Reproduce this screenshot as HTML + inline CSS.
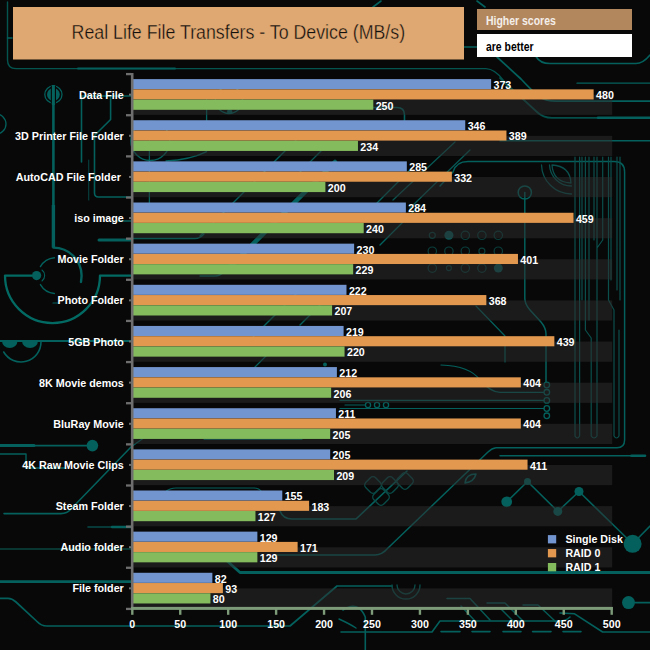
<!DOCTYPE html>
<html><head><meta charset="utf-8"><title>Real Life File Transfers - To Device (MB/s)</title>
<style>
html,body{margin:0;padding:0;background:#080808;}
body{width:650px;height:650px;overflow:hidden;}
svg{display:block;}
text{font-family:"Liberation Sans",Arial,sans-serif;}
.lb{font-weight:bold;font-size:10.67px;fill:#fff;}
</style></head><body>
<svg width="650" height="650" viewBox="0 0 650 650">
<rect width="650" height="650" fill="#080808"/>

<g fill="none" stroke="#04605c" stroke-width="1.6" stroke-linecap="round" stroke-linejoin="round">
<!-- top-left frame line -->
<path d="M7.5,2 V60 Q7.5,68.6 16,68.6 H486 Q495,69 503,80 L512,93" stroke="#045450" stroke-width="1.4"/>
<path d="M78,68.6 H175" stroke-width="2"/>
<path d="M7.5,38 H12"/>
<path d="M464,47 H477"/>
<path d="M372,107.5 H397 Q404.5,107.5 404.5,115 V121"/>
<path d="M373,7 L381,1 M477,1 L485,7"/>
<!-- circle with bars -->
<circle cx="53.4" cy="94.5" r="8.6" stroke-width="1.3"/>
<path d="M53.4,104 V206" stroke-width="2.6" stroke-linecap="butt"/>
<path d="M53.4,205 V247.6" stroke-width="3.4" stroke-linecap="butt"/>
<path d="M53.4,247.6 A28.2,28.2 0 0 1 81.6,275.6 L81,282" stroke-width="2.4"/>
<path d="M81.5,162 V96 H131"/>
<path d="M110.6,96 V119.5 L94.5,135.5 V193 Q94.5,197 98.5,197 H131"/>
<path d="M88.7,160 V200" stroke="#063f3d" stroke-width="1.2"/>
<circle cx="-4" cy="124" r="10" stroke-width="1.3"/>
<path d="M99,240 H131" stroke-width="3"/>
<path d="M118,221 H131" stroke-width="1.3"/>
<!-- big semicircle system -->
<path d="M32,275.6 H5 A47.5,47.5 0 0 0 100,275.6 H131" stroke-width="2.3" stroke="#036a63"/>
<path d="M54.4,257.7 A18,18 0 0 0 40.4,266.6 M40.4,284.6 A18,18 0 0 0 54.4,293.5" stroke-width="1.4"/>
<path d="M42,270 A7,7 0 0 1 42,281" stroke-width="1.1"/>
<path d="M53,303 H58" stroke-width="1.2"/>
<path d="M0,341 H131" stroke-width="2"/>
<path d="M41,342 A20,20 0 0 1 3.7,352" stroke-width="1.6"/>
<path d="M0,445.6 H34" stroke-width="3"/>
<path d="M34,445.6 H88" stroke-width="1.8"/>
<path d="M0,454 H26 V468 H66" stroke-width="1.4"/>
<path d="M131,447 L71,509 Q67,513.6 61,513.6 H4" stroke-width="1.6"/>
<path d="M88,527 H112" stroke-width="1.6" stroke="#064a47"/>
<path d="M112,527 H131" stroke-width="2.4"/>
<path d="M0,549 H131" stroke-width="1.5" stroke="#0a463e"/>
<path d="M0,581.6 H131" stroke-width="2.9"/>
<path d="M0,598.4 H8 Q12,598.4 16,602 L37,621.5 Q41,626 47,626 H290 L337,586 H392" stroke-width="1.7"/>
<!-- bottom -->
<path d="M226,560 L240,572.5 H650" stroke-width="2.8"/>
<path d="M392,585 A14,14 0 0 0 420,585 M397,585 A9,9 0 0 0 415,585" stroke="#0a4a47" stroke-width="1.4"/>
<path d="M447,598.6 H470 L490,620 M487,603 H505 L523,621 M523,605 H538 L556,622 M461,606 L476,622 M500,608 L513,621" stroke="#075955" stroke-width="1.5"/>
<path d="M341,632 H432 L440,621 H560 Q566,621 570,617 M560,613 L574.6,613.8 L602.6,632 H650" stroke-width="1.6"/>
<path d="M441,631.6 H460 M472,631.6 H490 M503,631.6 H521 M532.6,631.6 H551 M563,631.6 H581" stroke-width="1.6"/>
<path d="M343,610 Q358,600 365.3,617 V650" stroke-width="1.6"/>
<path d="M339,619 Q350,624 356,628" stroke-width="1.4"/>
<path d="M635,602.6 H650" stroke-width="1.8"/>
<!-- right top -->
<path d="M536,56.5 Q540,63.5 550,63.5 H636 Q643,63.5 650,55" stroke-width="1.6"/>
<path d="M497,57 L521,79 Q533,92 540,97 Q546,101.2 556,101.2 H650" stroke-width="1.7"/>
<path d="M500,78 L537,112 Q543,117.8 552,117.8 H598" stroke-width="1.8" stroke="#054f4b"/>
<path d="M598,117.8 H650" stroke-width="2.6"/>
<path d="M577,83.2 H650" stroke-width="1.3"/>
<path d="M500,140.8 H650" stroke-width="1.6"/>
<path d="M440,186 L453,172 Q456,161.6 468,161.6 H614 Q624.6,161.6 624.6,172 V440 Q624.6,447.7 617,447.7 H496 Q492,448 488,452 L388,548 Q382,555 375,555 H276" stroke-width="1.5"/>
<path d="M575,157 V436 Q577.3,440 579.6,436 V157 M585.4,157 V330 L591.2,338 V436 Q594,440 597,436 V157 M602.7,157 V240 L597,248 V300 M608.5,157 V300 L614,310 V436 Q616.5,440 619,436 V330 M620,157 V300 M589,157 V320 M582,157 V300 M594,157 V240 M611,157 V280 M617,157 V290" stroke="#0a4f4c" stroke-width="1.2"/>
<path d="M541.5,165 A30,30 0 0 0 571.5,194 M549.5,165 A22,22 0 0 0 571.5,186 M552,165 Q570,166 571,183 Q553,182 552,165 Z" stroke="#0a4f4c" stroke-width="1.3"/>
<circle cx="524.8" cy="192.5" r="6.6" stroke-width="1.5"/>
<path d="M524.8,192.5 V298 Q524.7,304 530,310 L541,322 Q546,328 546,334 V382" stroke-width="1.5"/>
<g stroke-width="1.3"><circle cx="546.8" cy="385" r="2.8"/><circle cx="546.8" cy="392.3" r="2.8"/><circle cx="546.8" cy="400.4" r="2.8"/><circle cx="546.8" cy="408.5" r="2.8"/><circle cx="546.8" cy="415.8" r="2.8"/></g>
<path d="M340,400.4 H544 M340,408.5 H544 M441,365 Q470,366 480,380 Q490,392 500,392.3 H543.5" stroke-width="1.2"/>
<path d="M476,306 L505,336 V362" stroke-width="1.2"/>
<path d="M500,455.8 H631" stroke-width="1.5"/>
<path d="M631.5,455.8 H645" stroke-width="2.6"/>
<!-- circle grid -->
<g stroke="#0a3f3c" stroke-width="1.2">
<circle cx="432.3" cy="235.3" r="3"/><circle cx="465.3" cy="235.3" r="4.2"/><circle cx="481.9" cy="235.3" r="4.2"/><circle cx="498.3" cy="235.3" r="4.2"/>
<circle cx="432.3" cy="251.2" r="4.2"/><circle cx="448.9" cy="251.2" r="4.2"/><circle cx="465.3" cy="251.2" r="4.2"/><circle cx="481.9" cy="251.2" r="3"/><circle cx="498.3" cy="251.2" r="4.2"/>
<circle cx="432.3" cy="268.1" r="4.2"/><circle cx="448.9" cy="268.1" r="2.5"/><circle cx="465.3" cy="268.1" r="4.2"/><circle cx="481.9" cy="268.1" r="4.2"/>
</g>
<!-- zigzag -->
<path d="M506.7,501.8 L527.5,481.5 L557.8,511.4 L579,491.5 L632.6,543.8 L650,526" stroke-width="1.6"/>
<path d="M280,511 Q283,519 292,519 H356 L407,471" stroke-width="1.6"/>
<g stroke="#0a4a47" stroke-width="1.4">
<rect x="366" y="478" width="14" height="14" rx="4" transform="rotate(45 373 485)"/>
<rect x="383" y="478" width="14" height="14" rx="4" transform="rotate(45 390 485)"/>
<rect x="374" y="490" width="14" height="14" rx="4" transform="rotate(45 381 497)"/>
<rect x="398" y="474" width="14" height="14" rx="4" transform="rotate(45 405 481)"/>
</g>
<path d="M465,483 Q466,474 476,474 Q474,482 465,483" stroke-width="1.5"/>
<!-- diagonals in bar zone -->
<g stroke-width="1.3"><circle cx="368" cy="405" r="2.6"/><circle cx="377" cy="405" r="2.6"/><circle cx="386" cy="405" r="2.6"/></g>
<path d="M345,405 H365" stroke-width="1.2"/>
<circle cx="229" cy="100" r="13.5" stroke-width="1.4"/>
<path d="M206.6,98 V123" stroke-width="1.3"/>
<circle cx="150.3" cy="141" r="19.5" stroke-width="1.4"/>
<path d="M149.4,141 V206" stroke-width="1.3"/>
<path d="M166,161 Q190,160 206.6,151.7" stroke-width="1.3"/>
<path d="M335,162 L228,269" stroke-width="4.5"/>
<path d="M300,136 L200,236 M410,170 L370,210 M420,205 L380,245 M300,290 L250,340 M325,300 L300,325" stroke-width="1.4"/>
<path d="M270,352 L255,367 M145,437 L131,447" stroke-width="1.3"/>
<path d="M204,439.5 H302 M165,492 Q170,488 176,488 H254 Q259,488 262,492" stroke-width="1.2"/>
<path d="M133,238.5 H195 Q200,238.5 204,234" stroke-width="1.4"/>
<path d="M200,276 H215 Q220,276 224,272" stroke-width="1.3"/>
<path d="M455,142 L393,200 M470,150 L410,208 M330,142 L300,172" stroke="#075753" stroke-width="1.3"/>
</g>
<g fill="#04605c" stroke="none">
<circle cx="53.4" cy="94.5" r="6.4"/>
<circle cx="229.7" cy="111.5" r="2.6"/>
<circle cx="325" cy="364.6" r="2"/>
<circle cx="36.6" cy="275.6" r="4.6"/>
<path d="M2,341 H17.5 A7.75,7 0 0 1 2,341 Z"/>
<path d="M22,341 H38 A8,7 0 0 1 22,341 Z"/>
<circle cx="92.4" cy="445.6" r="5.8"/>
<circle cx="628.5" cy="602.6" r="6.5"/>
<circle cx="448.9" cy="235.3" r="4.5" fill="#0a5553"/>
<circle cx="498.3" cy="268.1" r="4.5" fill="#0a5553"/>
<circle cx="506.7" cy="501.8" r="5.4"/>
<circle cx="527.5" cy="481.5" r="3.5"/>
<circle cx="557.8" cy="511.4" r="4.5"/>
<circle cx="579" cy="491.5" r="4.5"/>
<circle cx="632.6" cy="543.8" r="9"/>
</g>
<rect x="50.8" y="86" width="5.2" height="17.5" fill="#080808"/>
<rect x="51.9" y="85" width="3" height="20" fill="#05625d"/>

<rect x="133.5" y="94.70" width="478.70" height="20.2" fill="#2d2d2d" fill-opacity="0.5"/>
<rect x="133.5" y="135.84" width="478.70" height="20.2" fill="#2d2d2d" fill-opacity="0.5"/>
<rect x="133.5" y="176.98" width="478.70" height="20.2" fill="#2d2d2d" fill-opacity="0.5"/>
<rect x="133.5" y="218.12" width="478.70" height="20.2" fill="#2d2d2d" fill-opacity="0.5"/>
<rect x="133.5" y="259.26" width="478.70" height="20.2" fill="#2d2d2d" fill-opacity="0.5"/>
<rect x="133.5" y="300.40" width="478.70" height="20.2" fill="#2d2d2d" fill-opacity="0.5"/>
<rect x="133.5" y="341.54" width="478.70" height="20.2" fill="#2d2d2d" fill-opacity="0.5"/>
<rect x="133.5" y="382.68" width="478.70" height="20.2" fill="#2d2d2d" fill-opacity="0.5"/>
<rect x="133.5" y="423.82" width="478.70" height="20.2" fill="#2d2d2d" fill-opacity="0.5"/>
<rect x="133.5" y="464.96" width="478.70" height="20.2" fill="#2d2d2d" fill-opacity="0.5"/>
<rect x="133.5" y="506.10" width="478.70" height="20.2" fill="#2d2d2d" fill-opacity="0.5"/>
<rect x="133.5" y="547.24" width="478.70" height="20.2" fill="#2d2d2d" fill-opacity="0.5"/>
<rect x="133.5" y="588.38" width="478.70" height="20.2" fill="#2d2d2d" fill-opacity="0.5"/>
<rect x="133" y="79.10" width="358.13" height="10.1" fill="#7295cf"/>
<text class="lb" x="493.53" y="89.05">373</text>
<rect x="133" y="89.35" width="460.64" height="10.1" fill="#e3984f"/>
<text class="lb" x="596.04" y="99.30">480</text>
<rect x="133" y="99.60" width="240.30" height="10.2" fill="#84bc5d"/>
<text class="lb" x="375.70" y="109.60">250</text>
<text class="lb" x="123.8" y="98.70" text-anchor="end" style="font-size:10.75px">Data File</text>
<rect x="133" y="120.24" width="332.27" height="10.1" fill="#7295cf"/>
<text class="lb" x="467.67" y="130.19">346</text>
<rect x="133" y="130.49" width="373.46" height="10.1" fill="#e3984f"/>
<text class="lb" x="508.86" y="140.44">389</text>
<rect x="133" y="140.74" width="224.97" height="10.2" fill="#84bc5d"/>
<text class="lb" x="360.37" y="150.74">234</text>
<text class="lb" x="123.8" y="139.84" text-anchor="end" style="font-size:10.75px">3D Printer File Folder</text>
<rect x="133" y="161.38" width="273.83" height="10.1" fill="#7295cf"/>
<text class="lb" x="409.23" y="171.33">285</text>
<rect x="133" y="171.63" width="318.86" height="10.1" fill="#e3984f"/>
<text class="lb" x="454.26" y="181.58">332</text>
<rect x="133" y="181.88" width="192.40" height="10.2" fill="#84bc5d"/>
<text class="lb" x="327.80" y="191.88">200</text>
<text class="lb" x="123.8" y="180.98" text-anchor="end" style="font-size:10.75px">AutoCAD File Folder </text>
<rect x="133" y="202.52" width="272.87" height="10.1" fill="#7295cf"/>
<text class="lb" x="408.27" y="212.47">284</text>
<rect x="133" y="212.77" width="440.52" height="10.1" fill="#e3984f"/>
<text class="lb" x="575.92" y="222.72">459</text>
<rect x="133" y="223.02" width="230.72" height="10.2" fill="#84bc5d"/>
<text class="lb" x="366.12" y="233.02">240</text>
<text class="lb" x="123.8" y="222.12" text-anchor="end" style="font-size:10.75px">iso image</text>
<rect x="133" y="243.66" width="221.14" height="10.1" fill="#7295cf"/>
<text class="lb" x="356.54" y="253.61">230</text>
<rect x="133" y="253.91" width="384.96" height="10.1" fill="#e3984f"/>
<text class="lb" x="520.36" y="263.86">401</text>
<rect x="133" y="264.16" width="220.18" height="10.2" fill="#84bc5d"/>
<text class="lb" x="355.58" y="274.16">229</text>
<text class="lb" x="123.8" y="263.26" text-anchor="end" style="font-size:10.75px">Movie Folder</text>
<rect x="133" y="284.80" width="213.48" height="10.1" fill="#7295cf"/>
<text class="lb" x="348.88" y="294.75">222</text>
<rect x="133" y="295.05" width="353.34" height="10.1" fill="#e3984f"/>
<text class="lb" x="488.74" y="305.00">368</text>
<rect x="133" y="305.30" width="199.11" height="10.2" fill="#84bc5d"/>
<text class="lb" x="334.51" y="315.30">207</text>
<text class="lb" x="123.8" y="304.40" text-anchor="end" style="font-size:10.75px">Photo Folder</text>
<rect x="133" y="325.94" width="210.60" height="10.1" fill="#7295cf"/>
<text class="lb" x="346.00" y="335.89">219</text>
<rect x="133" y="336.19" width="421.36" height="10.1" fill="#e3984f"/>
<text class="lb" x="556.76" y="346.14">439</text>
<rect x="133" y="346.44" width="211.56" height="10.2" fill="#84bc5d"/>
<text class="lb" x="346.96" y="356.44">220</text>
<text class="lb" x="123.8" y="345.54" text-anchor="end" style="font-size:10.75px">5GB Photo</text>
<rect x="133" y="367.08" width="203.90" height="10.1" fill="#7295cf"/>
<text class="lb" x="339.30" y="377.03">212</text>
<rect x="133" y="377.33" width="387.83" height="10.1" fill="#e3984f"/>
<text class="lb" x="523.23" y="387.28">404</text>
<rect x="133" y="387.58" width="198.15" height="10.2" fill="#84bc5d"/>
<text class="lb" x="333.55" y="397.58">206</text>
<text class="lb" x="123.8" y="386.68" text-anchor="end" style="font-size:10.75px">8K Movie demos</text>
<rect x="133" y="408.22" width="202.94" height="10.1" fill="#7295cf"/>
<text class="lb" x="338.34" y="418.17">211</text>
<rect x="133" y="418.47" width="387.83" height="10.1" fill="#e3984f"/>
<text class="lb" x="523.23" y="428.42">404</text>
<rect x="133" y="428.72" width="197.19" height="10.2" fill="#84bc5d"/>
<text class="lb" x="332.59" y="438.72">205</text>
<text class="lb" x="123.8" y="427.82" text-anchor="end" style="font-size:10.75px">BluRay Movie</text>
<rect x="133" y="449.36" width="197.19" height="10.1" fill="#7295cf"/>
<text class="lb" x="332.59" y="459.31">205</text>
<rect x="133" y="459.61" width="394.54" height="10.1" fill="#e3984f"/>
<text class="lb" x="529.94" y="469.56">411</text>
<rect x="133" y="469.86" width="201.02" height="10.2" fill="#84bc5d"/>
<text class="lb" x="336.42" y="479.86">209</text>
<text class="lb" x="123.8" y="468.96" text-anchor="end" style="font-size:10.75px">4K Raw Movie Clips</text>
<rect x="133" y="490.50" width="149.29" height="10.1" fill="#7295cf"/>
<text class="lb" x="284.69" y="500.45">155</text>
<rect x="133" y="500.75" width="176.11" height="10.1" fill="#e3984f"/>
<text class="lb" x="311.51" y="510.70">183</text>
<rect x="133" y="511.00" width="122.47" height="10.2" fill="#84bc5d"/>
<text class="lb" x="257.87" y="521.00">127</text>
<text class="lb" x="123.8" y="510.10" text-anchor="end" style="font-size:10.75px">Steam Folder</text>
<rect x="133" y="531.64" width="124.38" height="10.1" fill="#7295cf"/>
<text class="lb" x="259.78" y="541.59">129</text>
<rect x="133" y="541.89" width="164.62" height="10.1" fill="#e3984f"/>
<text class="lb" x="300.02" y="551.84">171</text>
<rect x="133" y="552.14" width="124.38" height="10.2" fill="#84bc5d"/>
<text class="lb" x="259.78" y="562.14">129</text>
<text class="lb" x="123.8" y="551.24" text-anchor="end" style="font-size:10.75px">Audio folder</text>
<rect x="133" y="572.78" width="79.36" height="10.1" fill="#7295cf"/>
<text class="lb" x="214.76" y="582.73">82</text>
<rect x="133" y="583.03" width="89.89" height="10.1" fill="#e3984f"/>
<text class="lb" x="225.29" y="592.98">93</text>
<rect x="133" y="593.28" width="77.44" height="10.2" fill="#84bc5d"/>
<text class="lb" x="212.84" y="603.28">80</text>
<text class="lb" x="123.8" y="592.38" text-anchor="end" style="font-size:10.75px">File folder</text>
<rect x="130.9" y="73" width="2.6" height="537" fill="#6e6e6e"/>
<rect x="126" y="72.95" width="5" height="2.3" fill="#6e6e6e"/>
<rect x="129" y="93.65" width="2" height="2" fill="#6e6e6e"/>
<rect x="126" y="114.09" width="5" height="2.3" fill="#6e6e6e"/>
<rect x="129" y="134.79" width="2" height="2" fill="#6e6e6e"/>
<rect x="126" y="155.23" width="5" height="2.3" fill="#6e6e6e"/>
<rect x="129" y="175.93" width="2" height="2" fill="#6e6e6e"/>
<rect x="126" y="196.37" width="5" height="2.3" fill="#6e6e6e"/>
<rect x="129" y="217.07" width="2" height="2" fill="#6e6e6e"/>
<rect x="126" y="237.51" width="5" height="2.3" fill="#6e6e6e"/>
<rect x="129" y="258.21" width="2" height="2" fill="#6e6e6e"/>
<rect x="126" y="278.65" width="5" height="2.3" fill="#6e6e6e"/>
<rect x="129" y="299.35" width="2" height="2" fill="#6e6e6e"/>
<rect x="126" y="319.79" width="5" height="2.3" fill="#6e6e6e"/>
<rect x="129" y="340.49" width="2" height="2" fill="#6e6e6e"/>
<rect x="126" y="360.93" width="5" height="2.3" fill="#6e6e6e"/>
<rect x="129" y="381.63" width="2" height="2" fill="#6e6e6e"/>
<rect x="126" y="402.07" width="5" height="2.3" fill="#6e6e6e"/>
<rect x="129" y="422.77" width="2" height="2" fill="#6e6e6e"/>
<rect x="126" y="443.21" width="5" height="2.3" fill="#6e6e6e"/>
<rect x="129" y="463.91" width="2" height="2" fill="#6e6e6e"/>
<rect x="126" y="484.35" width="5" height="2.3" fill="#6e6e6e"/>
<rect x="129" y="505.05" width="2" height="2" fill="#6e6e6e"/>
<rect x="126" y="525.49" width="5" height="2.3" fill="#6e6e6e"/>
<rect x="129" y="546.19" width="2" height="2" fill="#6e6e6e"/>
<rect x="126" y="566.63" width="5" height="2.3" fill="#6e6e6e"/>
<rect x="129" y="587.33" width="2" height="2" fill="#6e6e6e"/>
<rect x="126" y="607.77" width="5" height="2.3" fill="#6e6e6e"/>
<rect x="131" y="606.9" width="481.8" height="3" fill="#7d9b78"/>
<rect x="131.10" y="607" width="2.4" height="7.8" fill="#7d9b78"/>
<text class="lb" x="132.30" y="627.5" text-anchor="middle">0</text>
<rect x="179.04" y="607" width="2.4" height="7.8" fill="#7d9b78"/>
<text class="lb" x="180.24" y="627.5" text-anchor="middle">50</text>
<rect x="226.98" y="607" width="2.4" height="7.8" fill="#7d9b78"/>
<text class="lb" x="228.18" y="627.5" text-anchor="middle">100</text>
<rect x="274.92" y="607" width="2.4" height="7.8" fill="#7d9b78"/>
<text class="lb" x="276.12" y="627.5" text-anchor="middle">150</text>
<rect x="322.86" y="607" width="2.4" height="7.8" fill="#7d9b78"/>
<text class="lb" x="324.06" y="627.5" text-anchor="middle">200</text>
<rect x="370.80" y="607" width="2.4" height="7.8" fill="#7d9b78"/>
<text class="lb" x="372.00" y="627.5" text-anchor="middle">250</text>
<rect x="418.74" y="607" width="2.4" height="7.8" fill="#7d9b78"/>
<text class="lb" x="419.94" y="627.5" text-anchor="middle">300</text>
<rect x="466.68" y="607" width="2.4" height="7.8" fill="#7d9b78"/>
<text class="lb" x="467.88" y="627.5" text-anchor="middle">350</text>
<rect x="514.62" y="607" width="2.4" height="7.8" fill="#7d9b78"/>
<text class="lb" x="515.82" y="627.5" text-anchor="middle">400</text>
<rect x="562.56" y="607" width="2.4" height="7.8" fill="#7d9b78"/>
<text class="lb" x="563.76" y="627.5" text-anchor="middle">450</text>
<rect x="610.50" y="607" width="2.4" height="7.8" fill="#7d9b78"/>
<text class="lb" x="611.70" y="627.5" text-anchor="middle">500</text>
<rect x="547.9" y="535.10" width="8.3" height="8.3" fill="#7295cf"/>
<text class="lb" x="565.4" y="543.10">Single Disk</text>
<rect x="547.9" y="549.05" width="8.3" height="8.3" fill="#e3984f"/>
<text class="lb" x="565.4" y="557.05">RAID 0</text>
<rect x="547.9" y="563.00" width="8.3" height="8.3" fill="#84bc5d"/>
<text class="lb" x="565.4" y="571.00">RAID 1</text>
<rect x="13" y="7" width="451" height="52.5" fill="#dfa771"/>
<text x="71.6" y="38.85" font-size="20" fill="#12100e" stroke="#dfa771" stroke-width="0.35" textLength="333.5" lengthAdjust="spacingAndGlyphs">Real Life File Transfers - To Device (MB/s)</text>
<rect x="477" y="9" width="155" height="21" fill="#b3875e"/>
<text x="486" y="24.9" font-size="12" font-weight="bold" fill="#f3efea" textLength="69.8" lengthAdjust="spacingAndGlyphs">Higher scores</text>
<rect x="477" y="34" width="155" height="23" fill="#ffffff"/>
<text x="486" y="50.5" font-size="12" font-weight="bold" fill="#000" textLength="47.6" lengthAdjust="spacingAndGlyphs">are better</text>
</svg></body></html>
